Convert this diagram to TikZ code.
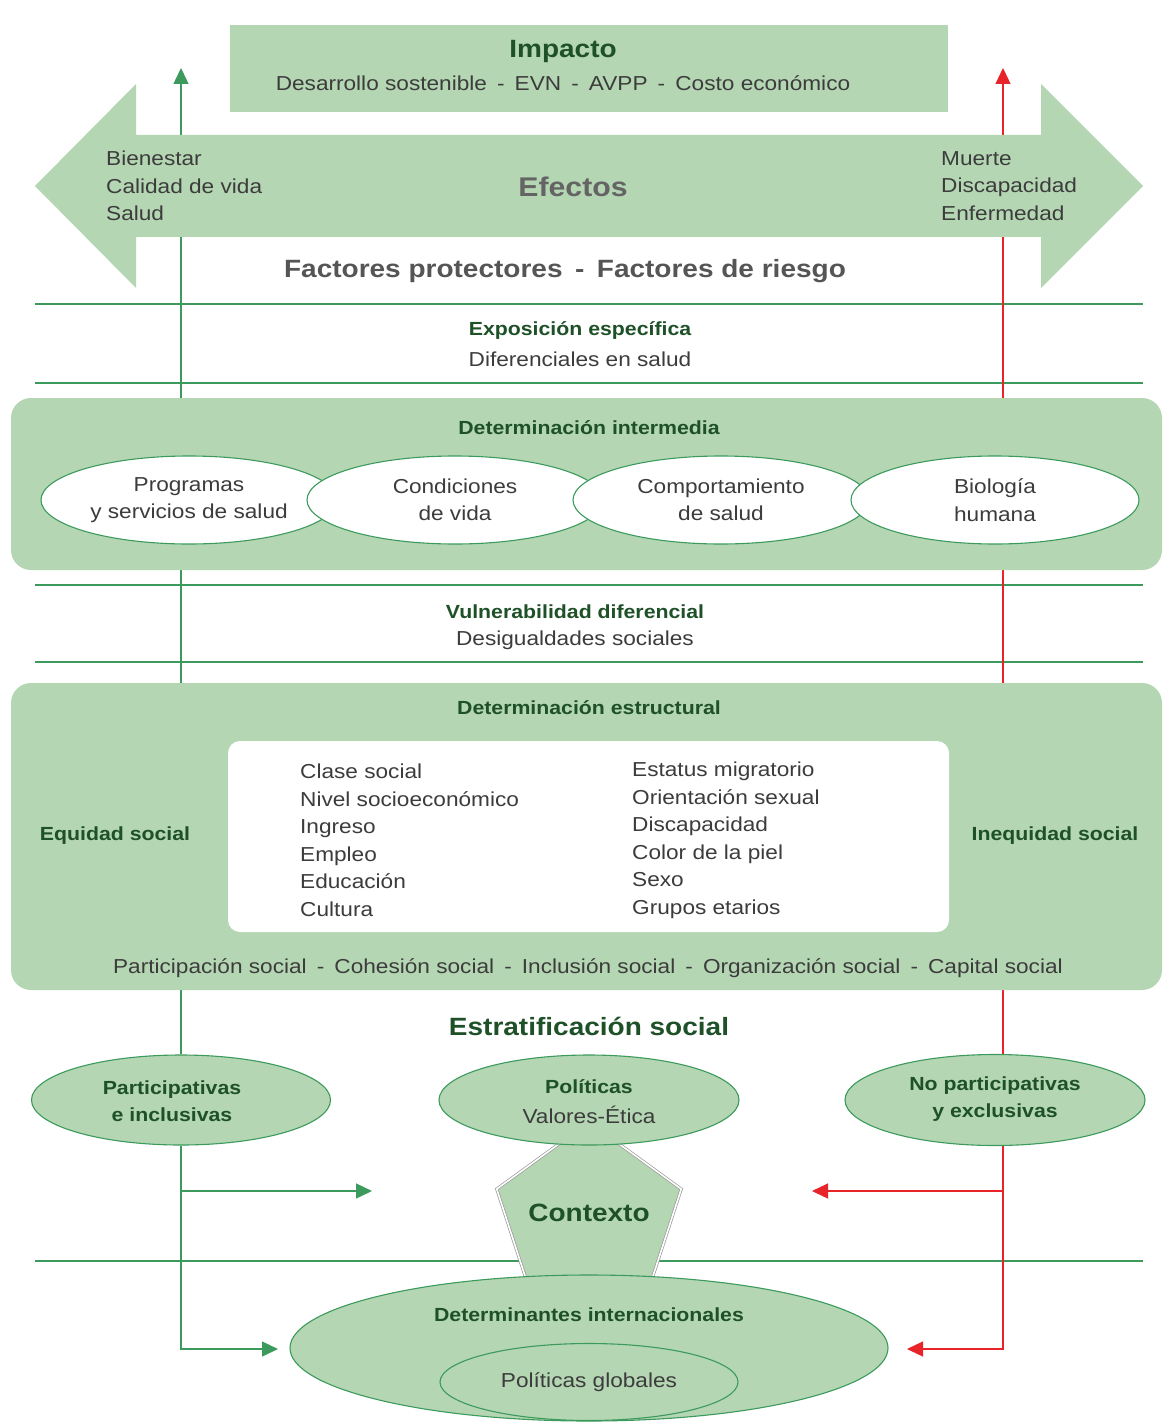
\documentclass[tikz,border=0pt]{standalone}
\usepackage{fontspec}
\setmainfont{Liberation Sans}[FakeStretch=1.12]
\usetikzlibrary{shapes.geometric,arrows.meta}
\definecolor{gfill}{HTML}{B4D6B3}
\definecolor{gdark}{HTML}{1E5128}
\definecolor{gline}{HTML}{3C9A5C}
\definecolor{rline}{HTML}{E8232A}
\definecolor{txt}{HTML}{3C3C3C}
\definecolor{efc}{HTML}{646464}
\definecolor{fgray}{HTML}{555555}
\begin{document}
\begin{tikzpicture}[x=1pt,y=-1pt,
  body/.style={font=\fontsize{20.2}{27.5}\selectfont, text=txt, inner sep=0pt, align=center},
  btitle/.style={font=\fontsize{19}{27.5}\selectfont\bfseries, text=gdark, inner sep=0pt, align=center},
  bigtitle/.style={font=\fontsize{25}{30}\selectfont\bfseries, text=gdark, inner sep=0pt},
  sepline/.style={draw=gline, line width=1.3pt},
  panel/.style={fill=gfill, rounded corners=20pt, inner sep=0pt},
  wellipse/.style={ellipse, draw=gline, fill=white, line width=1.1pt, minimum width=296pt, minimum height=88pt, inner sep=0pt},
  gellipse/.style={ellipse, draw=gline, fill=gfill, line width=1.1pt, inner sep=0pt},
  garrow/.style={draw=gline, line width=1.4pt, -{Triangle[length=16pt,width=15pt]}},
  rarrow/.style={draw=rline, line width=1.3pt, -{Triangle[length=16pt,width=15pt]}}
]
\useasboundingbox (0,0) rectangle (1168,1423);
\fill[white] (0,0) rectangle (1168,1423);

% separators
\draw[sepline] (35,304) -- (1143,304);
\draw[sepline] (35,383) -- (1143,383);
\draw[sepline] (35,585) -- (1143,585);
\draw[sepline] (35,662) -- (1143,662);
\draw[sepline] (35,1261) -- (1143,1261);

% coordinates
\coordinate (gtop) at (181,68);
\coordinate (rtop) at (1003,68);
\coordinate (gbr) at (181,1191);
\coordinate (gtip1) at (372,1191);
\coordinate (gtip2) at (278,1349);
\coordinate (rbr) at (1003,1191);
\coordinate (rtip1) at (812,1191);
\coordinate (rtip2) at (907,1349);

% side ellipses
\node[gellipse, minimum width=299pt, minimum height=90pt] (pinc) at (181,1100) {};
\node[gellipse, minimum width=300pt, minimum height=91pt] (noinc) at (995,1100) {};

% vertical connectors
\draw[garrow] (pinc.north) -- (gtop);
\draw[rarrow] (noinc.north -| rtop) -- (rtop);
\draw[garrow] (pinc.south) |- (gtip2);
\draw[garrow] (gbr) -- (gtip1);
\draw[rarrow] (noinc.south -| rtop) |- (rtip2);
\draw[rarrow] (rbr) -- (rtip1);

% Impacto box
\node[fill=gfill, minimum width=718pt, minimum height=87pt, inner sep=0pt] (impbox) at (589,68.5) {};
\node[bigtitle] (impacto) at (563,51) {Impacto};
\node[body] (impsub) at (563,83) {Desarrollo sostenible\enspace-\enspace EVN\enspace-\enspace AVPP\enspace-\enspace Costo económico};

% double arrow
\fill[gfill] (35,186) -- (136,84) -- (136,135) -- (1041,135) -- (1041,84) -- (1143,186)
  -- (1041,288) -- (1041,237) -- (136,237) -- (136,288) -- cycle;
\node[body, anchor=west, align=left] (bien) at (106,186) {Bienestar\\Calidad de vida\\Salud};
\node[body, anchor=west, align=left] (muerte) at (941,186) {Muerte\\Discapacidad\\Enfermedad};
\node[font=\fontsize{27}{30}\selectfont\bfseries, text=efc, inner sep=0pt] (efectos) at (573,187) {Efectos};
\node[font=\fontsize{25}{30}\selectfont\bfseries, text=fgray, inner sep=0pt] (factores) at (565,271) {Factores protectores\enspace-\enspace Factores de riesgo};

% exposicion
\node[btitle] (expo) at (580,331) {Exposición específica};
\node[body] (difer) at (580,359) {Diferenciales en salud};

% intermediate panel
\node[panel, minimum width=1151pt, minimum height=172pt] (inter) at (586.5,484) {};
\node[btitle] (intert) at (589,428) {Determinación intermedia};
\node[wellipse, body] (prog) at (189,500) {Programas\\y servicios de salud};
\node[wellipse, body] (cond) at (455,500) {Condiciones\\de vida};
\node[wellipse, body] (comp) at (721,500) {Comportamiento\\de salud};
\node[wellipse, body, minimum width=288pt] (bio) at (995,500) {Biología\\humana};

% vulnerabilidad
\node[btitle] (vuln) at (575,612) {Vulnerabilidad diferencial};
\node[body] (desig) at (575,640) {Desigualdades sociales};

% structural panel
\node[panel, minimum width=1151pt, minimum height=307pt] (estr) at (586.5,836.5) {};
\node[btitle] (estrt) at (589,708) {Determinación estructural};
\node[fill=white, rounded corners=12pt, minimum width=721pt, minimum height=191pt, inner sep=0pt] (wbox) at (588.5,836.5) {};
\node[body, anchor=west, align=left] (colL) at (300,840.5) {Clase social\\Nivel socioeconómico\\Ingreso\\Empleo\\Educación\\Cultura};
\node[body, anchor=west, align=left] (colR) at (632,840.5) {Estatus migratorio\\Orientación sexual\\Discapacidad\\Color de la piel\\Sexo\\Grupos etarios};
\node[btitle] (equi) at (115,836) {Equidad social};
\node[btitle] (inequi) at (1055,836) {Inequidad social};
\node[body] (partic) at (588,968) {Participación social\enspace-\enspace Cohesión social\enspace-\enspace Inclusión social\enspace-\enspace Organización social\enspace-\enspace Capital social};

% estratificacion
\node[bigtitle] (estrat) at (589,1026) {Estratificación social};

% texts in side ellipses
\node[btitle] (pinct) at (172,1101) {Participativas\\e inclusivas};
\node[btitle] (noinct) at (995,1099) {No participativas\\y exclusivas};

% contexto pentagon
\node[regular polygon, regular polygon sides=5, minimum size=194pt, inner sep=0pt,
  fill=gfill, draw=black!40, line width=0.7pt, double=white, double distance=1.6pt] (ctx) at (589,1219) {};
\node[bigtitle] (ctxt) at (589,1213) {Contexto};

% politicas ellipse
\node[gellipse, minimum width=300pt, minimum height=90pt] (pol) at (589,1100) {};
\node[btitle] (polt) at (589,1087) {Políticas};
\node[body] (valores) at (589,1115) {Valores-Ética};

% determinantes internacionales
\node[gellipse, minimum width=598pt, minimum height=146pt] (detint) at (589,1348) {};
\node[btitle] (detintt) at (589,1315) {Determinantes internacionales};
\node[gellipse, minimum width=298pt, minimum height=77pt] (polglob) at (589,1382) {};
\node[body] (polglobt) at (589,1382) {Políticas globales};
\end{tikzpicture}
\end{document}
